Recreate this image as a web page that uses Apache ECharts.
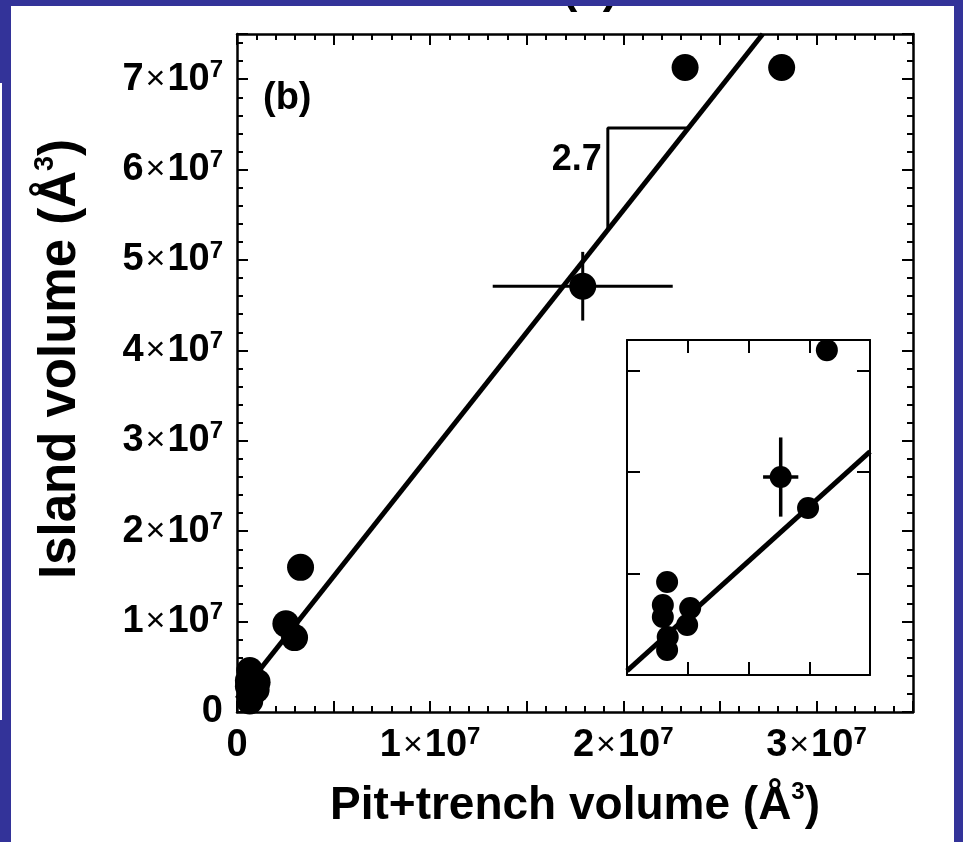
<!DOCTYPE html>
<html>
<head>
<meta charset="utf-8">
<title>Island volume vs pit+trench volume</title>
<script src="https://cdn.jsdelivr.net/npm/echarts@6/dist/echarts.min.js"></script>
<style>
  html, body { margin: 0; padding: 0; background: #333399; }
  #chart { width: 963px; height: 842px; }
</style>
</head>
<body>
<div id="chart"></div>
<script>
// Measured volumes (Å^3): pit+trench volume vs island volume
const pitTrench = [0.66e6, 0.59e6, 0.59e6, 1.04e6, 0.99e6, 0.67e6, 0.66e6, 2.53e6, 2.98e6, 3.29e6, 1.79e7, 2.32e7, 2.82e7];
const island    = [4.58e6, 3.45e6, 2.86e6, 3.30e6, 2.46e6, 1.87e6, 1.23e6, 9.75e6, 8.23e6, 1.60e7, 4.71e7, 7.13e7, 7.13e7];

// number of points (from the start of the arrays) shown in the small-volume inset
const insetCount = 10;

// error bars: [point index, ±x, ±y]
const mainErrorBar  = [10, 4.66e6, 3.8e6];
const insetErrorBar = [7, 0.29e6, 1.95e6];

// linear fit, island = slope * pitTrench + intercept
const fitSlope = 2.7;
const fitIntercept = 1.5e6;
const insetFitIntercept = 0.2e6;

// slope triangle: left edge x, top edge y, label height
const triX = 1.92e7;
const triTop = 6.46e7;
const slopeLabelY = 6.1e7;

// axis ranges
const xMax = 3.5e7, yMax = 7.5e7;
const insetXMax = 4e6, insetYMax = 1.65e7;

const FONT = 'Liberation Sans, Arial, Helvetica, sans-serif';

const richTick = {
  n: { fontFamily: FONT, fontSize: 38, fontWeight: 'bold', color: '#000', lineHeight: 42 },
  x: { fontFamily: FONT, fontSize: 34, fontWeight: 'normal', color: '#000', lineHeight: 42, padding: [0, 2, 0, 2] },
  s: { fontFamily: FONT, fontSize: 24, fontWeight: 'bold', color: '#000', lineHeight: 14, verticalAlign: 'top' }
};
function richTitle(size) {
  return {
    t: { fontFamily: FONT, fontSize: size, fontWeight: 'bold', color: '#000', lineHeight: size + 6 },
    s: { fontFamily: FONT, fontSize: Math.round(size * 0.52), fontWeight: 'bold', color: '#000', lineHeight: 16, verticalAlign: 'top' }
  };
}

function sciLabel(v) {
  if (v === 0) return '{n|0}';
  if (Math.abs(v % 1e7) < 1) return '{n|' + Math.round(v / 1e7) + '}{x|×}{n|10}{s|7}';
  return '';
}

function tickStyle(len, show) {
  return { show: show !== false, inside: true, length: len, lineStyle: { color: '#000', width: 2 } };
}
function lineStyle(show, width) {
  return { show: show, onZero: false, lineStyle: { color: '#000', width: width } };
}

function axis(opts) {
  const base = {
    type: 'value',
    min: 0,
    splitLine: { show: false },
    axisLine: lineStyle(true, 2.5),
    axisLabel: { show: false },
    axisTick: tickStyle(11)
  };
  return Object.assign(base, opts);
}

const minorX = { show: true, splitNumber: 5, length: 6, lineStyle: { color: '#000', width: 2 } };

const xAxes = [
  // main bottom (labels, 5e6 ticks, 1e6 minor)
  axis({ gridIndex: 0, position: 'bottom', max: xMax, interval: 5e6, minorTick: minorX,
    axisLabel: { show: true, margin: 13, formatter: sciLabel, rich: richTick },
    name: '{t|Pit+trench volume (Å}{s|3}{t|)}',
    nameLocation: 'middle', nameGap: 68,
    nameTextStyle: { rich: richTitle(46) } }),
  // main top
  axis({ gridIndex: 0, position: 'top', max: xMax, interval: 5e6, minorTick: minorX }),
  // inset bottom / top
  axis({ gridIndex: 1, position: 'bottom', max: insetXMax, interval: 1e6,
    axisLine: lineStyle(true, 2), axisTick: tickStyle(13) }),
  axis({ gridIndex: 1, position: 'top', max: insetXMax, interval: 1e6,
    axisLine: lineStyle(true, 2), axisTick: tickStyle(13) })
];

const yAxes = [
  // main left (labels, 1e7 ticks)
  axis({ gridIndex: 0, position: 'left', max: yMax, interval: 1e7,
    axisLabel: { show: true, margin: 14, formatter: sciLabel, rich: richTick },
    name: '{t|Island volume (Å}{s|3}{t|)}',
    nameLocation: 'middle', nameGap: 148, nameRotate: 90,
    nameTextStyle: { rich: richTitle(51), padding: [0, 0, 0, 28] } }),
  // main right
  axis({ gridIndex: 0, position: 'right', max: yMax, interval: 1e7 }),
  // main minor ticks every 2e6, left and right
  axis({ gridIndex: 0, position: 'left', max: yMax, interval: 2e6,
    axisLine: lineStyle(false, 2), axisTick: tickStyle(6) }),
  axis({ gridIndex: 0, position: 'right', max: yMax, interval: 2e6,
    axisLine: lineStyle(false, 2), axisTick: tickStyle(6) }),
  // inset left / right
  axis({ gridIndex: 1, position: 'left', max: insetYMax, interval: 5e6,
    axisLine: lineStyle(true, 2), axisTick: tickStyle(13) }),
  axis({ gridIndex: 1, position: 'right', max: insetYMax, interval: 5e6,
    axisLine: lineStyle(true, 2), axisTick: tickStyle(13) })
];

const mainPoints = pitTrench.map((x, i) => [x, island[i]]);
const insetPoints = mainPoints.slice(0, insetCount);

function fitEnds(b, xEnd) {
  return [[0, b], [xEnd, fitSlope * xEnd + b]];
}
const mainFitEndX = (yMax - fitIntercept) / fitSlope;

function errorBars(xi, yi, bar, width) {
  const i = bar[0];
  return {
    type: 'custom', xAxisIndex: xi, yAxisIndex: yi, z: 4, silent: true,
    data: [[pitTrench[i], island[i], bar[1], bar[2]]],
    renderItem(params, api) {
      const x = api.value(0), y = api.value(1), dx = api.value(2), dy = api.value(3);
      const l = api.coord([x - dx, y]), r = api.coord([x + dx, y]);
      const t = api.coord([x, y + dy]), b = api.coord([x, y - dy]);
      const st = { stroke: '#000', lineWidth: width };
      return { type: 'group', children: [
        { type: 'line', shape: { x1: l[0], y1: l[1], x2: r[0], y2: r[1] }, style: st },
        { type: 'line', shape: { x1: t[0], y1: t[1], x2: b[0], y2: b[1] }, style: st }
      ] };
    }
  };
}

const triBottom = fitSlope * triX + fitIntercept;
const triCornerX = (triTop - fitIntercept) / fitSlope;

const option = {
  backgroundColor: '#333399',
  animation: false,
  grid: [
    { left: 237, right: 50, top: 34, bottom: 130, containLabel: false },
    { left: 627, right: 93, top: 340, bottom: 167, containLabel: false,
      show: true, backgroundColor: '#fff', borderWidth: 0 }
  ],
  xAxis: xAxes,
  yAxis: yAxes,
  graphic: [
    { type: 'rect', z: -10, shape: { x: 11, y: 0, width: 943, height: 842 }, style: { fill: '#fff' } },
    { type: 'rect', z: -10, shape: { x: 0, y: 83, width: 2, height: 637 }, style: { fill: '#fff' } },
    { type: 'text', z: -9, x: 590, y: 12,
      style: { text: '(a)', font: 'bold 46px ' + FONT, fill: '#000', align: 'center', verticalAlign: 'bottom' } },
    { type: 'rect', z: -8, shape: { x: 0, y: 0, width: 963, height: 6 }, style: { fill: '#333399' } },
    { type: 'text', x: 263, y: 99,
      style: { text: '(b)', font: 'bold 38px ' + FONT, fill: '#000', align: 'left', verticalAlign: 'middle' } }
  ],
  series: [
    // main fit line
    { type: 'line', xAxisIndex: 0, yAxisIndex: 0, data: fitEnds(fitIntercept, mainFitEndX),
      symbol: 'none', lineStyle: { color: '#000', width: 5 }, z: 2, silent: true },
    // slope triangle
    { type: 'line', xAxisIndex: 0, yAxisIndex: 0,
      data: [[triX, triBottom], [triX, triTop], [triCornerX, triTop]],
      symbol: 'none', lineStyle: { color: '#000', width: 3 }, z: 2, silent: true },
    // slope label
    { type: 'custom', xAxisIndex: 0, yAxisIndex: 0, silent: true, z: 3,
      data: [[triX, slopeLabelY]],
      renderItem(params, api) {
        const c = api.coord([api.value(0), api.value(1)]);
        return { type: 'text', x: c[0] - 6, y: c[1],
          style: { text: String(fitSlope), font: 'bold 36px ' + FONT, fill: '#000',
                   align: 'right', verticalAlign: 'middle' } };
      } },
    // main points
    { type: 'scatter', xAxisIndex: 0, yAxisIndex: 0, data: mainPoints,
      symbol: 'circle', symbolSize: 27, itemStyle: { color: '#000', opacity: 1 }, z: 3, silent: true },
    errorBars(0, 0, mainErrorBar, 3),
    // inset fit line
    { type: 'line', xAxisIndex: 2, yAxisIndex: 4, data: fitEnds(insetFitIntercept, insetXMax),
      symbol: 'none', lineStyle: { color: '#000', width: 5 }, z: 2, silent: true },
    // inset points
    { type: 'scatter', xAxisIndex: 2, yAxisIndex: 4, data: insetPoints,
      symbol: 'circle', symbolSize: 22, itemStyle: { color: '#000', opacity: 1 }, z: 3, silent: true },
    errorBars(2, 4, insetErrorBar, 3.5)
  ]
};

const chart = echarts.init(document.getElementById('chart'), null, { renderer: 'canvas' });
chart.setOption(option);
</script>
</body>
</html>
